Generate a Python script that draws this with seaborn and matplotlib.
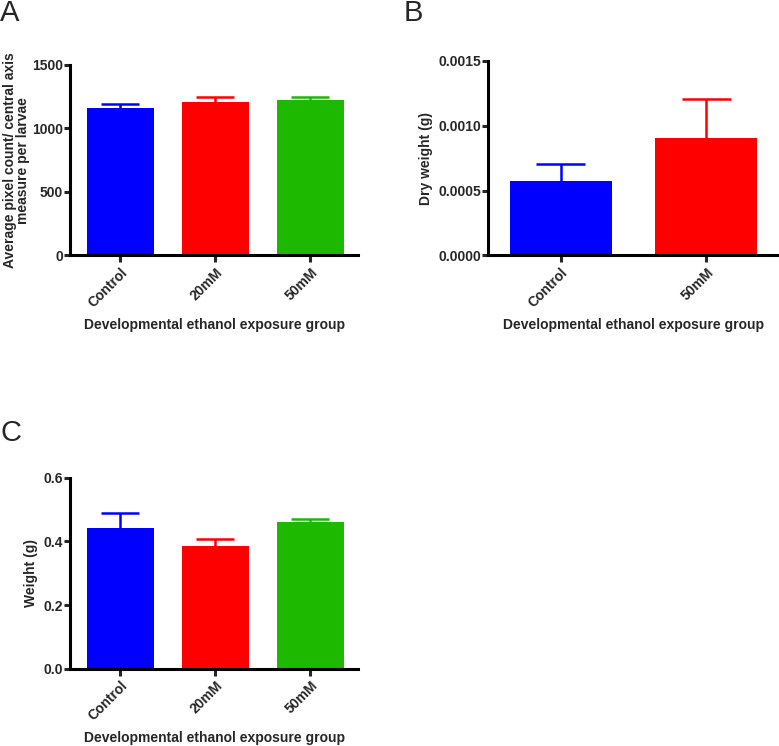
import matplotlib
matplotlib.use("Agg")
import matplotlib.pyplot as plt
import seaborn as sns
import pandas as pd

# ─── DATA ───────────────────────────────────────────────────────
groups_3 = ["Control", "20mM", "50mM"]
groups_2 = ["Control", "50mM"]

pixel_mean = [1163, 1211, 1224]
pixel_sem = [27, 34, 26]

dry_mean = [0.000574, 0.000908]
dry_sem = [0.000129, 0.000302]

weight_mean = [0.441, 0.386, 0.462]
weight_sem = [0.047, 0.022, 0.009]

COLORS = {"Control": "#0000FF", "20mM": "#FF0000", "50mM": "#1DB800"}
COLORS_B = {"Control": "#0000FF", "50mM": "#FF0000"}
# ────────────────────────────────────────────────────────────────

sns.set_style("white")
plt.rcParams["font.family"] = ["Liberation Sans", "DejaVu Sans"]
plt.rcParams["font.weight"] = "bold"

FS = 10
XLAB = "Developmental ethanol exposure group"

fig = plt.figure(figsize=(7.79, 7.46), dpi=100)
W, H = 779, 746


def px_axes(x0, x1, ytop, ybot):
    return fig.add_axes([x0 / W, 1 - ybot / H, (x1 - x0) / W, (ybot - ytop) / H])


def draw_panel(ax, cats, means, sems, palette, ylim, yticks, fmt, ylabel, cap, xlim,
               ylab_pad=4):
    df = pd.DataFrame({"group": cats, "value": means})
    sns.barplot(data=df, x="group", y="value", hue="group", palette=palette,
                order=cats, width=0.7, errorbar=None, legend=False,
                saturation=1, ax=ax, edgecolor="none")
    # upper-only SEM bars, in the bar colour
    for i, (m, s) in enumerate(zip(means, sems)):
        c = palette[cats[i]]
        ax.vlines(i, m, m + s, color=c, lw=1.8, zorder=1)
        ax.hlines(m + s, i - cap, i + cap, color=c, lw=1.8, zorder=1)
    ax.set_xlim(*xlim)
    ax.set_ylim(*ylim)
    ax.set_yticks(yticks)
    ax.set_yticklabels([fmt.format(v) for v in yticks], fontsize=FS, fontweight="bold")
    ax.set_xticks(range(len(cats)))
    ax.set_xticklabels(cats, rotation=45, ha="right", rotation_mode="anchor",
                       fontsize=FS, fontweight="bold")
    ax.set_xlabel(XLAB, fontsize=FS, fontweight="bold", labelpad=6)
    ax.set_ylabel(ylabel, fontsize=FS, fontweight="bold", labelpad=ylab_pad,
                  linespacing=0.95)
    sns.despine(ax=ax)
    for sp in ("left", "bottom"):
        ax.spines[sp].set_linewidth(2.2)
        ax.spines[sp].set_color("black")
    ax.tick_params(axis="x", direction="out", length=5, width=2.2, pad=2, bottom=True)
    ax.tick_params(axis="y", direction="out", length=4, width=2.2, pad=1, left=True)


axA = px_axes(70, 358, 65, 255.3)
draw_panel(axA, groups_3, pixel_mean, pixel_sem, COLORS, (0, 1500),
           [0, 500, 1000, 1500], "{:.0f}",
           "Average pixel count/ central axis\nmeasure per larvae", 0.2, (-0.53, 2.5),
           ylab_pad=1.2)

axB = px_axes(488, 779, 61, 255.3)
draw_panel(axB, groups_2, dry_mean, dry_sem, COLORS_B, (0, 0.0015),
           [0, 0.0005, 0.0010, 0.0015], "{:.4f}", "Dry weight (g)", 0.17, (-0.5, 1.5))

axC = px_axes(70, 358, 477.7, 668.7)
draw_panel(axC, groups_3, weight_mean, weight_sem, COLORS, (0, 0.6),
           [0, 0.2, 0.4, 0.6], "{:.1f}", "Weight (g)", 0.2, (-0.53, 2.5))

for lab, x, y in (("A", 0, -1), ("B", 404, -1), ("C", 0, 419)):
    fig.text(x / W, 1 - y / H, lab, fontsize=21, fontweight="normal", va="top", ha="left")

fig.savefig("out.png", dpi=100)
